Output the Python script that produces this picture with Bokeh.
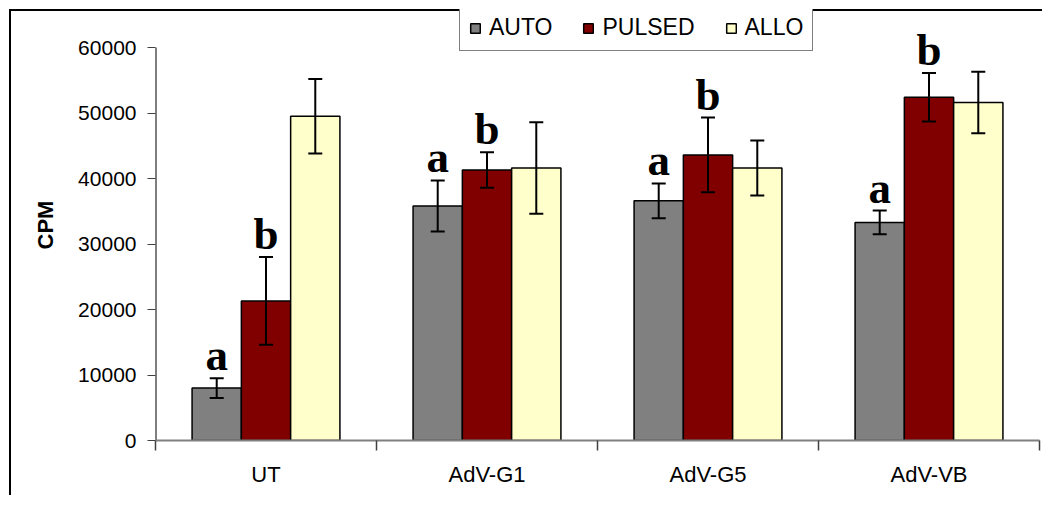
import numpy as np
from bokeh.plotting import figure
from bokeh.models import (ColumnDataSource, Range1d, FixedTicker,
                          Legend, LegendItem)
from bokeh.core.properties import value
from bokeh.embed import file_html
from bokeh.resources import INLINE

categories = ["UT", "AdV-G1", "AdV-G5", "AdV-VB"]
series = ["AUTO", "PULSED", "ALLO"]
auto_mean = [8000, 35800, 36600, 33300]
auto_err = [1500, 3900, 2650, 1800]
pulsed_mean = [21300, 41300, 43600, 52400]
pulsed_err = [6700, 2700, 5700, 3700]
allo_mean = [49500, 41600, 41600, 51600]
allo_err = [5700, 7000, 4200, 4700]
letters_auto = ["a", "a", "a", "a"]
letters_pulsed = ["b", "b", "b", "b"]
y_ticks = [0, 10000, 20000, 30000, 40000, 50000, 60000]
y_max = 60000

colors = ["#808080", "#800000", "#FFFFCC"]
means = [auto_mean, pulsed_mean, allo_mean]
errs = [auto_err, pulsed_err, allo_err]

W, H = 1042, 495
top_px, bottom_px = 9, 440          # frame top/bottom on canvas
axis_top_px = 47                     # where the value axis ends (y_max)
y_end = y_max * (bottom_px - top_px) / (bottom_px - axis_top_px)

p = figure(width=W, height=H, output_backend="svg", toolbar_location=None,
           x_range=Range1d(0, 4), y_range=Range1d(0, y_end),
           min_border_left=155, min_border_right=3, min_border_top=top_px,
           min_border_bottom=H - bottom_px)
p.outline_line_color = None
p.xgrid.visible = False
p.ygrid.visible = False
# transparent canvas so the host background (with the outer chart frame) shows
p.background_fill_color = None
p.border_fill_color = None
p.styles = {
    "background": ("linear-gradient(#000, #000) 9px 9px / 2px 100% no-repeat, "
                   "linear-gradient(#000, #000) 9px 9px / 100% 2px no-repeat, #ffffff"),
}

bw = 0.223
offsets = [-bw, 0.0, bw]
centers = np.arange(len(categories)) + 0.5

items = []
for k, name in enumerate(series):
    xs = centers + offsets[k]
    m = np.array(means[k])
    src = ColumnDataSource(dict(x=xs, top=m))
    r = p.vbar(x="x", top="top", width=bw, source=src, fill_color=colors[k],
               line_color="black", line_width=1.5)
    items.append(LegendItem(label=name, renderers=[r]))

# value-axis line, only up to the last tick
p.segment(x0=[0], y0=[0], x1=[0], y1=[y_max], line_color="black", line_width=2)

# error bars drawn above all bars
for k in range(len(series)):
    xs = centers + offsets[k]
    m = np.array(means[k])
    e = np.array(errs[k])
    src = ColumnDataSource(dict(x=xs, upper=m + e, lower=m - e))
    p.segment(x0="x", y0="lower", x1="x", y1="upper", source=src,
              line_color="black", line_width=2)
    p.scatter(x="x", y="upper", source=src, marker="dash", size=14,
              line_color="black", line_width=2)
    p.scatter(x="x", y="lower", source=src, marker="dash", size=14,
              line_color="black", line_width=2)

# significance letters
for k, lets in [(0, letters_auto), (1, letters_pulsed)]:
    xs = centers + offsets[k]
    ys = np.array(means[k]) + np.array(errs[k])
    lsrc = ColumnDataSource(dict(x=xs, y=ys, t=lets))
    p.text(x="x", y="y", text="t", source=lsrc, text_align="center",
           text_baseline="alphabetic", y_offset=-23,
           text_font=value("Liberation Serif"), text_font_style="bold",
           text_font_size="45px", text_color="black")

# x axis
xa = p.xaxis[0]
xa.ticker = FixedTicker(ticks=list(centers), minor_ticks=[0, 1, 2, 3, 4])
xa.major_label_overrides = {float(c): cat for c, cat in zip(centers, categories)}
xa.major_tick_out = 0
xa.major_tick_in = 0
xa.minor_tick_out = 10
xa.minor_tick_in = 0
xa.minor_tick_line_color = "#404040"
xa.minor_tick_line_width = 1.5
xa.axis_line_color = "#808080"
xa.axis_line_width = 2
xa.major_label_text_font = "Liberation Sans"
xa.major_label_text_font_size = "22px"
xa.major_label_text_color = "black"
xa.major_label_standoff = 11

# y axis
ya = p.yaxis[0]
ya.ticker = FixedTicker(ticks=y_ticks)
ya.major_label_overrides = {t: str(t) for t in y_ticks}
ya.major_tick_out = 8
ya.major_tick_in = 0
ya.minor_tick_line_color = None
ya.axis_line_color = None
ya.major_tick_line_color = "#404040"
ya.major_label_text_font = "Liberation Sans"
ya.major_label_text_font_size = "21px"
ya.major_label_text_color = "black"
ya.major_label_standoff = 11
ya.axis_label = "CPM"
ya.axis_label_text_font = "Liberation Sans"
ya.axis_label_text_font_style = "bold"
ya.axis_label_text_font_size = "22px"
ya.axis_label_text_color = "black"
ya.axis_label_standoff = 17

legend = Legend(items=items, orientation="horizontal", location=(304, 389),
                border_line_color="black", border_line_width=1,
                background_fill_color="white", background_fill_alpha=1,
                label_text_font="Liberation Sans", label_text_font_size="23px",
                label_text_color="black", glyph_width=12, glyph_height=12,
                label_standoff=8, spacing=30, padding=9, margin=0)
p.add_layout(legend, "center")

open("out.html", "w").write(file_html(p, INLINE))
